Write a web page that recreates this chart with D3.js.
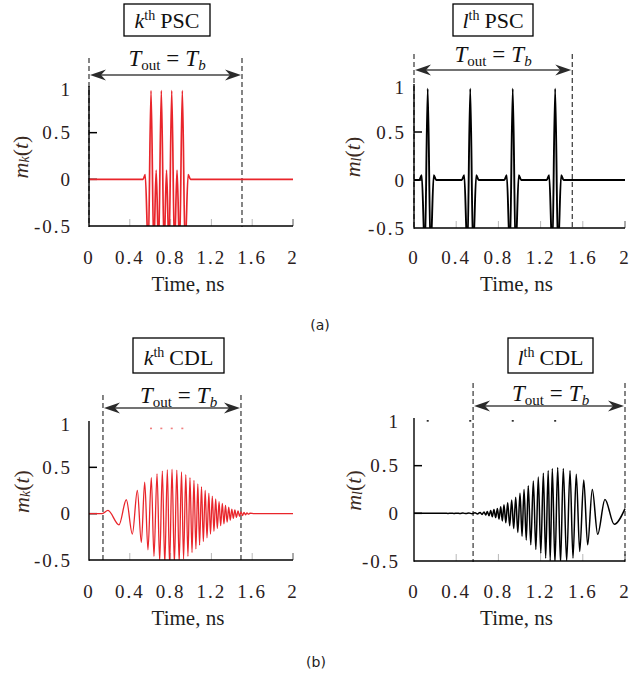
<!DOCTYPE html>
<html lang="en">
<head>
<meta charset="UTF-8">
<title>PSC / CDL waveforms</title>
<script src="https://cdnjs.cloudflare.com/ajax/libs/d3/7.8.5/d3.min.js"></script>
<style>
  body { margin: 0; background: #fff; }
  svg { display: block; }
  text { font-family: "Liberation Serif", "DejaVu Serif", serif; }
</style>
</head>
<body>
<svg id="chart" width="631" height="675"></svg>
<script>
// ticks
const xTicks = [0, 0.4, 0.8, 1.2, 1.6, 2];
const xTickLabels = ["0", "0.4", "0.8", "1.2", "1.6", "2"];
const yTicks = [-0.5, 0, 0.5, 1];
const yTickLabels = ["-0.5", "0", "0.5", "1"];

// k-th PSC: four overlapping pulses (time ns, value) - extrema
const pscK = [[0, 0], [0.53, 0], [0.551, 0.05], [0.581, -0.75], [0.608, 0.95], [0.635, -0.75],
  [0.6585, 0.1], [0.682, -0.75], [0.709, 0.95], [0.736, -0.75], [0.76, 0.1], [0.784, -0.75],
  [0.811, 0.95], [0.838, -0.75], [0.863, 0.1], [0.888, -0.75], [0.915, 0.95], [0.942, -0.75],
  [0.972, 0.05], [0.995, 0], [2, 0]];

// l-th PSC: four separate pulses
const pscL = [[0, 0],
  [0.05, 0], [0.073, 0.05], [0.103, -0.75], [0.13, 0.95], [0.157, -0.75], [0.187, 0.05], [0.21, 0],
  [0.453, 0], [0.476, 0.05], [0.506, -0.75], [0.533, 0.95], [0.56, -0.75], [0.59, 0.05], [0.613, 0],
  [0.856, 0], [0.879, 0.05], [0.909, -0.75], [0.936, 0.95], [0.963, -0.75], [0.993, 0.05], [1.016, 0],
  [1.258, 0], [1.281, 0.05], [1.311, -0.75], [1.338, 0.95], [1.365, -0.75], [1.395, 0.05], [1.418, 0],
  [2, 0]];

// pulse peak times (show up as faint dots in the CDL plots)
const pscKPeaks = [0.608, 0.709, 0.811, 0.915];
const pscLPeaks = [0.13, 0.533, 0.936, 1.338];

// k-th CDL output: chirp, slow first then fast
const cdlK = [[0, 0], [0.13, 0], [0.186, 0.035], [0.294, -0.12], [0.366, 0.15], [0.425, -0.22],
  [0.474, 0.25], [0.513, -0.31], [0.546, 0.34], [0.578, -0.39], [0.611, 0.39], [0.637, -0.46],
  [0.667, 0.43], [0.693, -0.51], [0.719, 0.46], [0.743, -0.54], [0.768, 0.475], [0.79, -0.55],
  [0.814, 0.48], [0.837, -0.54], [0.861, 0.47], [0.884, -0.52], [0.907, 0.45], [0.927, -0.49],
  [0.949, 0.42], [0.97, -0.46], [0.99, 0.39], [1.01, -0.42], [1.029, 0.36], [1.048, -0.38],
  [1.067, 0.32], [1.084, -0.34], [1.103, 0.29], [1.121, -0.3], [1.139, 0.25], [1.157, -0.26],
  [1.175, 0.22], [1.191, -0.22], [1.209, 0.19], [1.225, -0.19], [1.242, 0.16], [1.258, -0.16],
  [1.275, 0.13], [1.291, -0.13], [1.307, 0.11], [1.323, -0.11], [1.338, 0.09], [1.354, -0.09],
  [1.37, 0.07], [1.385, -0.07], [1.4, 0.05], [1.415, -0.05], [1.43, 0.04], [1.445, -0.04],
  [1.461, 0.03], [1.476, -0.03], [1.49, 0.02], [1.505, -0.02], [1.52, 0.013], [1.534, -0.012],
  [1.549, 0.008], [1.564, -0.006], [1.578, 0.005], [1.62, 0], [2, 0]];

// l-th CDL output: chirp, fast first then slow
const cdlL = [[0, 0], [0.27, 0], [0.294, 0.001], [0.322, -0.001], [0.351, 0.0015], [0.379, -0.0015],
  [0.408, 0.002], [0.436, -0.002], [0.464, 0.0025], [0.493, -0.003], [0.521, 0.003], [0.55, -0.004],
  [0.578, 0.005], [0.602, -0.006], [0.626, 0.01], [0.645, -0.012], [0.664, 0.015], [0.68, -0.017],
  [0.695, 0.02], [0.711, -0.025], [0.727, 0.03], [0.742, -0.035], [0.758, 0.04], [0.774, -0.045],
  [0.79, 0.05], [0.806, -0.06], [0.822, 0.07], [0.837, -0.08], [0.853, 0.09], [0.87, -0.1],
  [0.888, 0.11], [0.907, -0.13], [0.926, 0.14], [0.945, -0.16], [0.964, 0.17], [0.984, -0.2],
  [1.005, 0.21], [1.024, -0.24], [1.043, 0.25], [1.064, -0.28], [1.083, 0.29], [1.107, -0.33],
  [1.131, 0.34], [1.155, -0.38], [1.178, 0.38], [1.202, -0.42], [1.226, 0.42], [1.248, -0.47],
  [1.272, 0.45], [1.291, -0.5], [1.311, 0.47], [1.336, -0.52], [1.362, 0.48], [1.389, -0.52],
  [1.415, 0.47], [1.447, -0.5], [1.479, 0.45], [1.507, -0.47], [1.538, 0.41], [1.571, -0.4],
  [1.609, 0.35], [1.646, -0.33], [1.69, 0.25], [1.741, -0.22], [1.81, 0.145], [1.898, -0.115],
  [2, 0.05]];

// T_out windows (ns)
const winPscK = [0, 1.5];
const winPscL = [0, 1.5];
const winCdlK = [0.137, 1.49];
const winCdlL = [0.56, 2.0];

const RED = "#e9252b";
const svg = d3.select("#chart");

const panels = [
  { id: "a1", data: pscK, color: RED, width: 1.7, win: winPscK, dots: null,
    xRange: [89, 293], yRange: [226, 86], who: "k", title: "PSC", ylab: "k",
    box: [124, 4, 86, 32], winTop: 58, arrowY: 75, toutY: 66, labOff: 17, ylabX: 20,
    tickY: 264, xlabY: 291 },
  { id: "a2", data: pscL, color: "#000", width: 1.9, win: winPscL, dots: null,
    xRange: [414, 625], yRange: [228, 84], who: "l", title: "PSC", ylab: "l",
    box: [453, 4, 80, 32], winTop: 54, arrowY: 70, toutY: 62, labOff: 8, ylabX: 352,
    tickY: 264, xlabY: 291 },
  { id: "b1", data: cdlK, color: RED, width: 1.3, win: winCdlK, dots: { t: pscKPeaks, v: 0.92, c: "#f08080" },
    xRange: [89, 293], yRange: [560, 421], who: "k", title: "CDL", ylab: "k",
    box: [133, 338, 91, 35], winTop: 395, arrowY: 408, toutY: 403, labOff: 17, ylabX: 21,
    tickY: 598, xlabY: 625 },
  { id: "b2", data: cdlL, color: "#000", width: 1.5, win: winCdlL, dots: { t: pscLPeaks, v: 0.97, c: "#222" },
    xRange: [414, 625], yRange: [561, 418], who: "l", title: "CDL", ylab: "l",
    box: [508, 338, 85, 35], winTop: 383, arrowY: 406, toutY: 401, labOff: 14, ylabX: 353,
    tickY: 598, xlabY: 625 }
];

function arrowHead(g, tipX, yy, dir) {
  // stealth-like head, dir = +1 points right, -1 points left
  const L = 16, H = 5.5, N = 11;
  g.append("path")
    .attr("d", `M${tipX},${yy} L${tipX - dir * L},${yy - H} L${tipX - dir * N},${yy} L${tipX - dir * L},${yy + H} Z`)
    .attr("fill", "#2a2a2a");
}

function drawPanel(p) {
  const x = d3.scaleLinear().domain([0, 2]).range(p.xRange);
  const y = d3.scaleLinear().domain([-0.5, 1]).range(p.yRange);
  const g = svg.append("g");
  const x0 = p.xRange[0], x1 = p.xRange[1];
  const yb = y(-0.5);

  g.append("clipPath").attr("id", "clip-" + p.id)
    .append("rect")
    .attr("x", x0).attr("y", y(1.08))
    .attr("width", x1 - x0 + 2).attr("height", yb - y(1.08));

  // light x ticks
  g.selectAll(".xt").data(xTicks.slice(1)).enter().append("line")
    .attr("x1", d => x(d)).attr("x2", d => x(d))
    .attr("y1", yb).attr("y2", yb - 7)
    .attr("stroke", d => d === 2 ? "#555" : "#b8b8b8").attr("stroke-width", 1);

  // y ticks
  g.selectAll(".yt").data([0, 0.5]).enter().append("line")
    .attr("x1", x0).attr("x2", x0 + 8)
    .attr("y1", d => y(d)).attr("y2", d => y(d))
    .attr("stroke", "#000").attr("stroke-width", 1.5);

  // window dashed lines
  g.selectAll(".win").data(p.win).enter().append("line")
    .attr("x1", d => x(d)).attr("x2", d => x(d))
    .attr("y1", p.winTop).attr("y2", yb + 1)
    .attr("stroke", "#222").attr("stroke-width", 1.1)
    .attr("stroke-dasharray", "5,3");

  // signal
  const line = d3.line()
    .x(d => x(d[0]))
    .y(d => y(d[1]))
    .curve(d3.curveMonotoneX);
  g.append("path")
    .datum(p.data)
    .attr("clip-path", `url(#clip-${p.id})`)
    .attr("fill", "none")
    .attr("stroke", p.color)
    .attr("stroke-width", p.width)
    .attr("stroke-linejoin", "round")
    .attr("d", line);

  if (p.dots) {
    g.selectAll(".dot").data(p.dots.t).enter().append("rect")
      .attr("x", d => x(d) - 1).attr("y", y(p.dots.v) - 0.8)
      .attr("width", 2).attr("height", 1.6)
      .attr("fill", p.dots.c);
  }

  // axes
  g.append("line").attr("x1", x0).attr("x2", x0).attr("y1", y(1)).attr("y2", yb + 0.7)
    .attr("stroke", "#000").attr("stroke-width", 1.4);
  g.append("line").attr("x1", x0).attr("x2", x1).attr("y1", yb).attr("y2", yb)
    .attr("stroke", "#000").attr("stroke-width", 1.4);

  // tick labels
  g.selectAll(".xl").data(xTicks).enter().append("text")
    .attr("x", d => x(d)).attr("y", p.tickY)
    .attr("text-anchor", "middle")
    .attr("font-size", 19).attr("letter-spacing", 2)
    .attr("fill", "#2a201c")
    .text((d, i) => xTickLabels[i]);
  g.selectAll(".yl").data(yTicks).enter().append("text")
    .attr("x", x0 - p.labOff).attr("y", d => y(d) + (d === 1 ? 3 : 0))
    .attr("text-anchor", "end").attr("dominant-baseline", "central")
    .attr("font-size", 19).attr("letter-spacing", 2)
    .attr("fill", "#2a201c")
    .text((d, i) => yTickLabels[i]);

  // axis labels
  g.append("text")
    .attr("x", (x0 + x1) / 2 - 3).attr("y", p.xlabY)
    .attr("text-anchor", "middle").attr("font-size", 21)
    .attr("fill", "#1e1e1e")
    .text("Time, ns");
  const yl = g.append("text")
    .attr("transform", `translate(${p.ylabX},${(y(0) + y(0.5)) / 2 + 1}) rotate(-90)`)
    .attr("text-anchor", "middle").attr("dominant-baseline", "central")
    .attr("font-size", 22).attr("fill", "#3b2a22");
  yl.append("tspan").attr("font-style", "italic").text("m");
  yl.append("tspan").attr("font-style", "italic").attr("font-size", 14).attr("dy", 4).text(p.ylab);
  yl.append("tspan").attr("dy", -4).text("(");
  yl.append("tspan").attr("font-style", "italic").text("t");
  yl.append("tspan").text(")");

  // T_out = T_b arrow
  const ax0 = x(p.win[0]), ax1 = x(p.win[1]);
  g.append("line").attr("x1", ax0 + 10).attr("x2", ax1 - 10)
    .attr("y1", p.arrowY).attr("y2", p.arrowY)
    .attr("stroke", "#444").attr("stroke-width", 1.6);
  arrowHead(g, ax0 + 1, p.arrowY, -1);
  arrowHead(g, ax1 - 1, p.arrowY, 1);

  const cx = p.box[0] + p.box[2] / 2;
  const tt = g.append("text")
    .attr("x", cx).attr("y", p.toutY)
    .attr("text-anchor", "middle").attr("font-size", 23).attr("fill", "#111");
  tt.append("tspan").attr("font-style", "italic").text("T");
  tt.append("tspan").attr("font-size", 15).attr("dy", 4).text("out");
  tt.append("tspan").attr("dy", -4).attr("dx", 6).text("=");
  tt.append("tspan").attr("dx", 6).attr("font-style", "italic").text("T");
  tt.append("tspan").attr("font-size", 15).attr("dy", 4).attr("font-style", "italic").text("b");

  // title box
  g.append("rect")
    .attr("x", p.box[0]).attr("y", p.box[1])
    .attr("width", p.box[2]).attr("height", p.box[3])
    .attr("fill", "#fff").attr("stroke", "#000").attr("stroke-width", 1.3);
  const tl = g.append("text")
    .attr("x", cx).attr("y", p.box[1] + p.box[3] - 8)
    .attr("text-anchor", "middle").attr("font-size", 22).attr("fill", "#111");
  tl.append("tspan").attr("font-style", "italic").text(p.who);
  tl.append("tspan").attr("font-size", 14).attr("dy", -8).text("th");
  tl.append("tspan").attr("dy", 8).attr("dx", 5).text(p.title);
}

panels.forEach(drawPanel);

// sub-figure captions
svg.append("text").attr("x", 320).attr("y", 330).attr("text-anchor", "middle")
  .attr("font-size", 14).attr("fill", "#222")
  .style("font-family", "'DejaVu Sans', sans-serif").text("(a)");
svg.append("text").attr("x", 316).attr("y", 667).attr("text-anchor", "middle")
  .attr("font-size", 14).attr("fill", "#222")
  .style("font-family", "'DejaVu Sans', sans-serif").text("(b)");
</script>
</body>
</html>
